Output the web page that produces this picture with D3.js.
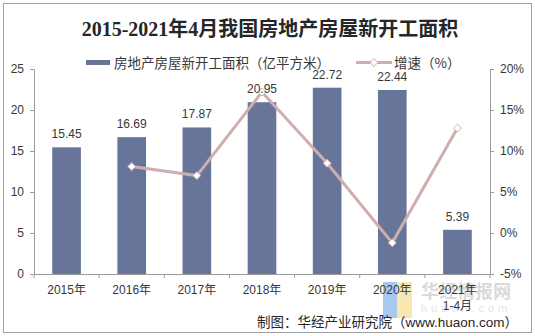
<!DOCTYPE html>
<html><head><meta charset="utf-8">
<script src="https://cdn.jsdelivr.net/npm/d3@7"></script>
<style>body{margin:0;background:#fff}svg{display:block}</style>
</head><body>
<script>
const categories = ["2015年","2016年","2017年","2018年","2019年","2020年","2021年\n1-4月"];
const areaValues = [15.45,16.69,17.87,20.95,22.72,22.44,5.39];
const growthValues = [null,8.1,7.0,17.2,8.5,-1.2,12.8];
const leftTicks = [0,5,10,15,20,25];
const rightTicks = [-5,0,5,10,15,20];
const title = "2015-2021年4月我国房地产房屋新开工面积";
const seriesNames = ["房地产房屋新开工面积（亿平方米）","增速（%）"];
const source = "制图：华经产业研究院（www.huaon.com）";

const W=535,H=336;
const svg=d3.select("body").append("svg").attr("width",W).attr("height",H);
const font="'Liberation Sans','Noto Sans CJK SC',sans-serif";
const axisColor="#9a9a9a", textColor="#383838";
const barColor="#67759a", lineColor="#cfaeae";

svg.append("rect").attr("x",3.5).attr("y",3.5).attr("width",W-7).attr("height",H-7)
  .attr("fill","#fff").attr("stroke","#a0a0a0");

const m={l:34,r:490,t:69,b:274};
const x=d3.scaleBand().domain(categories).range([m.l,m.r]).paddingInner(0.56).paddingOuter(0.28);
const y=d3.scaleLinear().domain([0,25]).range([m.b,m.t]);
const y2=d3.scaleLinear().domain([-5,20]).range([m.b,m.t]);

// title
svg.append("text").attr("x",270).attr("y",36).attr("text-anchor","middle")
  .attr("font-family","'Liberation Serif','Noto Sans CJK SC',serif").attr("font-weight","bold")
  .attr("font-size",20).attr("fill","#262626").text(title);

// watermark (background layer)
const wm=svg.append("g");
wm.append("rect").attr("x",383).attr("y",282).attr("width",14).attr("height",36).attr("fill","#a9c8f0");
wm.append("rect").attr("x",397).attr("y",282).attr("width",15).attr("height",36).attr("fill","#f6e8b0");
wm.append("text").attr("x",466).attr("y",298).attr("text-anchor","middle").attr("font-family","'Noto Sans CJK SC',sans-serif")
  .attr("font-weight","bold").attr("font-size",18).attr("fill","#dadada").text("华经情报网");
wm.append("text").attr("x",466).attr("y",312).attr("text-anchor","middle").attr("font-family",font)
  .attr("font-size",11).attr("letter-spacing",4).attr("fill","#e4e4e4").text("huaon.com");

// axes
const gl=svg.append("g").attr("transform",`translate(${m.l},0)`)
  .call(d3.axisLeft(y).tickValues(leftTicks).tickSize(4).tickSizeOuter(0).tickPadding(6));
const gr=svg.append("g").attr("transform",`translate(${m.r},0)`)
  .call(d3.axisRight(y2).tickValues(rightTicks).tickSize(4).tickSizeOuter(0).tickPadding(6).tickFormat(d=>d+"%"));
const gx=svg.append("g").attr("transform",`translate(0,${m.b})`)
  .call(d3.axisBottom(x).tickSize(0).tickFormat(""));
const bounds=d3.range(categories.length+1).map(i=>m.l+i*x.step());
svg.append("g").selectAll("line").data(bounds).join("line")
  .attr("x1",d=>d).attr("x2",d=>d).attr("y1",m.b).attr("y2",m.b+4).attr("stroke",axisColor);
[gl,gr,gx].forEach(g=>{
  g.selectAll("path,line").attr("stroke",axisColor);
  g.selectAll("text").attr("font-family",font).attr("font-size",12).attr("fill",textColor);
});

// x labels
const xl=svg.append("g").selectAll("text").data(categories).join("text")
  .attr("x",d=>x(d)+x.bandwidth()/2).attr("y",m.b+20).attr("text-anchor","middle")
  .attr("font-family",font).attr("font-size",12).attr("fill",textColor);
xl.each(function(d){
  const parts=d.split("\n");
  d3.select(this).selectAll("tspan").data(parts).join("tspan")
    .attr("x",x(d)+x.bandwidth()/2).attr("dy",(p,i)=>i?16:0).text(p=>p);
});

// bars
svg.append("g").selectAll("rect").data(areaValues).join("rect")
  .attr("x",(d,i)=>x(categories[i])).attr("width",x.bandwidth())
  .attr("y",d=>y(d)).attr("height",d=>y(0)-y(d)).attr("fill",barColor);

// line
const pts=growthValues.map((v,i)=>({v,c:categories[i]})).filter(p=>p.v!==null);
const line=d3.line().x(p=>x(p.c)+x.bandwidth()/2).y(p=>y2(p.v));
svg.append("path").datum(pts).attr("d",line).attr("fill","none").attr("stroke",lineColor).attr("stroke-width",3);
const sym=d3.symbol().type(d3.symbolDiamond2).size(40);
svg.append("g").selectAll("path").data(pts).join("path")
  .attr("transform",p=>`translate(${x(p.c)+x.bandwidth()/2},${y2(p.v)})`)
  .attr("d",sym).attr("fill","#fff").attr("stroke",lineColor).attr("stroke-width",1);

// data labels
svg.append("g").selectAll("text").data(areaValues).join("text")
  .attr("x",(d,i)=>x(categories[i])+x.bandwidth()/2).attr("y",d=>y(d)-9)
  .attr("text-anchor","middle").attr("font-family",font).attr("font-size",12).attr("fill",textColor)
  .text(d=>d.toFixed(2));

// legend
const lg=svg.append("g").attr("font-family","'Noto Sans CJK SC',sans-serif").attr("font-size",13.5).attr("fill",textColor);
lg.append("rect").attr("x",86).attr("y",60).attr("width",24).attr("height",5).attr("fill",barColor);
lg.append("text").attr("x",114).attr("y",67.5).text(seriesNames[0]);
lg.append("line").attr("x1",356).attr("x2",392).attr("y1",62.5).attr("y2",62.5).attr("stroke",lineColor).attr("stroke-width",3);
lg.append("path").attr("transform","translate(374,62.5)").attr("d",sym).attr("fill","#fff").attr("stroke",lineColor);
lg.append("text").attr("x",394).attr("y",67.5).text(seriesNames[1]);

// source
svg.append("text").attr("x",518).attr("y",327).attr("text-anchor","end")
  .attr("font-family",font).attr("font-size",13.5).attr("fill","#262626").text(source);
</script>
</body></html>
